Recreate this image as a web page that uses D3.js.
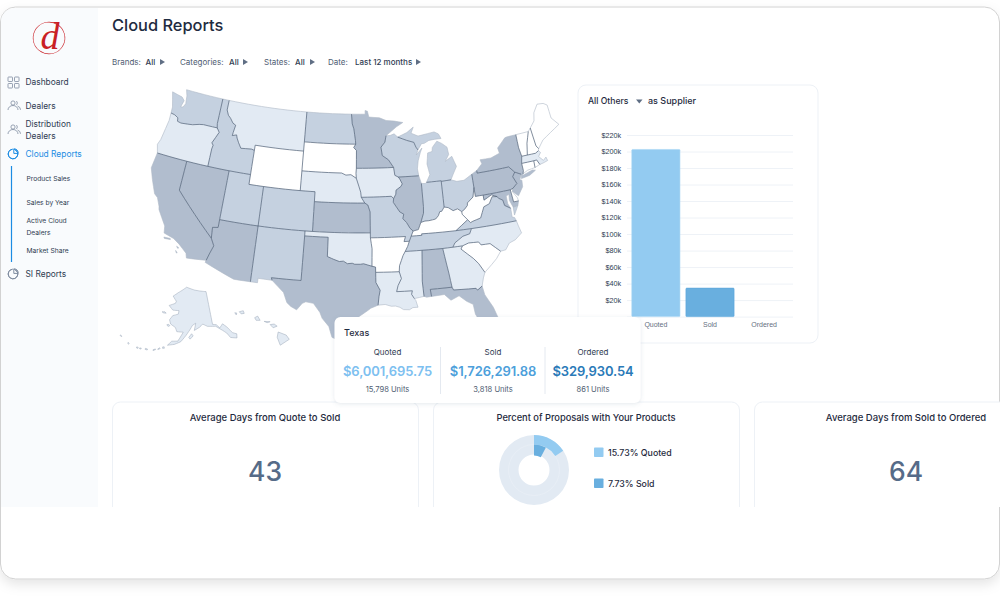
<!DOCTYPE html>
<html lang="en">
  <head>
    <meta charset="UTF-8" />
    <title>Cloud Reports</title>
    <script src="https://cdnjs.cloudflare.com/ajax/libs/d3/7.8.5/d3.min.js"></script>
    <style>
      html,
      body {
        margin: 0;
        padding: 0;
        background: #fff;
      }
      svg {
        display: block;
        font-family: Inter, 'Noto Sans', sans-serif;
      }
    </style>
  </head>
  <body>
    <svg width="1000" height="605"></svg>
    <script>
      // bar chart
      const barCategories = ['Quoted', 'Sold', 'Ordered'];
      const barValues = [202500, 34500, 0];
      const barTicks = [0, 20000, 40000, 60000, 80000, 100000, 120000, 140000, 160000, 180000, 200000, 220000];

      // tooltip
      const tipLabels = ['Quoted', 'Sold', 'Ordered'];
      const tipAmounts = ['$6,001,695.75', '$1,726,291.88', '$329,930.54'];
      const tipUnits = ['15,798 Units', '3,818 Units', '861 Units'];

      // donut
      const donutLabels = ['15.73% Quoted', '7.73% Sold'];
      const donutValues = [15.73, 7.73];

      // kpi cards
      const kpiTitles = ['Average Days from Quote to Sold', 'Percent of Proposals with Your Products', 'Average Days from Sold to Ordered'];
      const kpiValues = ['43', '', '64'];

      // navigation and filters
      const navItems = ['Dashboard', 'Dealers', 'Distribution', 'Dealers', 'Cloud Reports', 'SI Reports'];
      const navSubItems = ['Product Sales', 'Sales by Year', 'Active Cloud', 'Dealers', 'Market Share'];
      const filterNames = ['Brands:', 'Categories:', 'States:', 'Date:'];
      const filterValues = ['All', 'All', 'All', 'Last 12 months'];

      // map: 0 white .. 3 darkest
      const stateShade = {
        WA: 2, OR: 1, CA: 3, NV: 3, ID: 2, MT: 1, WY: 0, UT: 2, AZ: 3, CO: 2, NM: 2, ND: 2, SD: 0, NE: 1, KS: 3, OK: 1, TX: 3,
        MN: 3, IA: 1, MO: 2, AR: 0, LA: 1, WI: 2, IL: 3, MI: 2, IN: 2, OH: 2, KY: 0, TN: 2, MS: 1, AL: 3, GA: 1, FL: 3, SC: 0,
        NC: 1, VA: 2, WV: 0, MD: 3, DE: 0, PA: 3, NJ: 3, NY: 3, CT: 0, RI: 0, MA: 1, VT: 0, NH: 0, ME: 0, AK: 1, HI: 1,
      };

      // lon,lat outlines. XX_YY keys are borders between two states, lower case keys are coast or foreign borders
      const mapArcs = {
        WA_n: '-117.04,49 -122.76,49',
        WA_c: '-122.76,49 -122.45,48.4 -122.3,47.6 -122.55,47.2 -122.9,47.15 -122.65,47.85 -123.1,48.15 -124.7,48.38 -124.35,47.6 -124.05,46.9 -124,46.27',
        WA_OR: '-124,46.27 -123.4,46.2 -122.85,46 -122.75,45.65 -122.2,45.57 -121.2,45.65 -120.5,45.72 -119.6,45.92 -118.98,46 -116.92,46',
        WA_ID: '-116.92,46 -117.04,46.42 -117.04,49',
        OR_c: '-124,46.27 -123.95,45.5 -124.1,44.6 -124.3,43.4 -124.55,42.84 -124.2,42',
        OR_CA: '-124.2,42 -120,42',
        OR_NV: '-120,42 -117.03,42',
        OR_ID: '-116.92,46 -116.5,45.6 -116.85,45 -117.2,44.4 -116.95,44.2 -117.03,43.8 -117.03,42',
        ID_n: '-117.04,49 -116.05,49',
        ID_MT: '-116.05,49 -116.05,48 -115.7,47.5 -115.3,47.25 -114.8,46.8 -114.35,46.65 -114.5,45.9 -114.55,45.55 -113.95,45.7 -113.8,45.4 -113.45,44.95 -113,44.45 -112.3,44.5 -111.5,44.55 -111.05,44.47',
        ID_WY: '-111.05,44.47 -111.05,42',
        ID_UT: '-111.05,42 -114.04,42',
        ID_NV: '-114.04,42 -117.03,42',
        MT_n: '-116.05,49 -104.05,49',
        MT_ND: '-104.05,49 -104.05,45.94',
        MT_SD: '-104.05,45.94 -104.05,45',
        MT_WY: '-104.05,45 -111.05,45 -111.05,44.47',
        WY_UT: '-111.05,42 -111.05,41 -109.05,41',
        WY_CO: '-109.05,41 -104.05,41',
        WY_NE: '-104.05,41 -104.05,43',
        WY_SD: '-104.05,43 -104.05,45',
        ND_n: '-104.05,49 -97.23,49',
        ND_MN: '-97.23,49 -97.1,48 -96.85,47.5 -96.6,46.3 -96.56,45.94',
        ND_SD: '-96.56,45.94 -104.05,45.94',
        SD_NE: '-104.05,43 -98.5,43 -97.9,42.8 -97.2,42.85 -96.45,42.49',
        SD_IA: '-96.45,42.49 -96.5,43 -96.45,43.5',
        SD_MN: '-96.45,43.5 -96.45,45.3 -96.85,45.6 -96.56,45.94',
        MN_c: '-97.23,49 -95.15,49 -95.15,49.38 -94.8,49.3 -94.6,48.7 -93,48.6 -92,48.3 -90.8,48.2 -89.5,48 -90.5,47.6 -92.1,46.75',
        MN_WI: '-92.1,46.75 -92.3,46.1 -92.9,45.6 -92.75,44.75 -91.9,44.3 -91.22,43.5',
        IA_MN: '-91.22,43.5 -96.45,43.5',
        NE_CO: '-104.05,41 -102.04,41 -102.04,40',
        NE_KS: '-102.04,40 -95.31,40',
        NE_MO: '-95.31,40 -95.77,40.58',
        NE_IA: '-95.77,40.58 -95.85,41.1 -96.1,41.7 -96.45,42.49',
        IA_MO: '-95.77,40.58 -91.73,40.61 -91.42,40.38',
        IA_IL: '-91.42,40.38 -91.1,40.8 -91.05,41.2 -90.35,41.55 -90.15,41.8 -90.45,42.3 -90.64,42.51',
        IA_WI: '-90.64,42.51 -91.1,42.7 -91.22,43.5',
        WI_c1: '-92.1,46.75 -91.5,46.75 -90.9,46.9 -90.4,46.55',
        WI_MI: '-90.4,46.55 -89.1,46.15 -88.1,45.9 -87.85,45.4 -87.6,45.1',
        WI_c2: '-87.6,45.1 -87.9,44.6 -87,45.25 -87.3,44.8 -87.7,44 -87.9,43.2 -87.8,42.49',
        IL_WI: '-87.8,42.49 -90.64,42.51',
        MI_up: '-90.4,46.55 -89,46.95 -88,47.45 -88.4,46.85 -87.4,46.5 -86,46.65 -85,46.75 -84.4,46.5 -84.1,46 -85,46 -85.9,45.95 -86.6,45.7 -87,45.7 -87.6,45.1',
        MI_lp: '-83.45,41.73 -83.1,42.2 -82.45,43 -82.9,44.07 -83.9,43.65 -83.3,44.3 -83.4,45.05 -84.1,45.5 -84.75,45.78 -85,45.6 -85.5,45.2 -85.6,44.8 -86.25,44.7 -86.5,43.6 -86.25,42.5 -86.82,41.76',
        MI_IN: '-86.82,41.76 -84.8,41.76 -84.8,41.7',
        MI_OH: '-84.8,41.7 -83.45,41.73',
        IL_MO: '-91.42,40.38 -91.5,40 -91.1,39.5 -90.7,39 -90.2,38.75 -90.35,38.3 -89.9,37.9 -89.5,37.3 -89.13,37',
        IL_KY: '-89.13,37 -88.45,37.1 -88.05,37.8',
        IL_IN: '-88.05,37.8 -87.6,38.7 -87.53,39.35 -87.53,41.7',
        IL_c: '-87.53,41.7 -87.8,42.49',
        IN_c: '-87.53,41.7 -87,41.65 -86.82,41.76',
        IN_OH: '-84.8,41.7 -84.82,39.1',
        IN_KY: '-84.82,39.1 -85.2,38.7 -85.45,38.7 -85.7,38.3 -86.1,38 -86.5,37.95 -87,37.9 -87.5,37.9 -88.05,37.8',
        OH_c: '-83.45,41.73 -82.7,41.5 -81.7,41.5 -80.52,41.98',
        OH_PA: '-80.52,41.98 -80.52,40.64',
        OH_WV: '-80.52,40.64 -80.85,39.7 -81.7,39.2 -81.75,38.95 -82.2,38.6 -82.6,38.42',
        OH_KY: '-82.6,38.42 -83.1,38.75 -83.7,38.63 -84.3,39 -84.82,39.1',
        KY_MO: '-89.13,37 -89.42,36.5',
        KY_TN: '-89.42,36.5 -88.07,36.5 -88.07,36.65 -83.68,36.6',
        KY_VA: '-83.68,36.6 -82,37.53',
        KY_WV: '-82,37.53 -82.6,38.15 -82.6,38.42',
        TN_VA: '-83.68,36.6 -81.68,36.59',
        TN_NC: '-81.68,36.59 -82,36.1 -82.9,35.95 -84,35.4 -84.32,34.99',
        TN_GA: '-84.32,34.99 -85.6,34.98',
        TN_AL: '-85.6,34.98 -88.2,35',
        TN_MS: '-88.2,35 -90.3,35',
        TN_AR: '-90.3,35 -89.95,35.5 -89.7,36',
        TN_MO: '-89.7,36 -89.42,36.5',
        MO_AR: '-89.7,36 -90.37,36 -90.15,36.5 -94.62,36.5',
        MO_OK: '-94.62,36.5 -94.62,37',
        MO_KS: '-94.62,37 -94.61,39.1 -94.9,39.8 -95.31,40',
        KS_OK: '-94.62,37 -102.04,37',
        CO_KS: '-102.04,37 -102.04,40',
        CO_OK: '-102.04,37 -103,37',
        NM_OK: '-103,37 -103,36.5',
        OK_TX: '-103,36.5 -100,36.5 -100,34.56 -99.5,34.4 -99.2,34.3 -98.5,34.1 -98,34.15 -97.5,33.9 -96.9,33.95 -96.6,33.85 -95.9,33.85 -95.5,33.9 -94.48,33.64',
        OK_AR: '-94.48,33.64 -94.43,35.4 -94.62,36.5',
        AR_TX: '-94.48,33.64 -94.04,33.55 -94.04,33.02',
        AR_LA: '-94.04,33.02 -91.17,33',
        AR_MS: '-91.17,33 -91.1,33.6 -90.85,34.1 -90.6,34.6 -90.3,35',
        LA_MS: '-91.17,33 -90.95,32.3 -91.4,31.6 -91.6,31 -89.73,31 -89.85,30.65 -89.55,30.2',
        LA_c: '-89.55,30.2 -89.4,30 -89.2,29.3 -89.8,29.3 -90.2,29.1 -90.9,29.15 -91.3,29.4 -91.8,29.55 -92.3,29.55 -93,29.75 -93.84,29.7',
        LA_TX: '-93.84,29.7 -93.7,30.6 -93.55,31.2 -94.04,32 -94.04,33.02',
        MS_c: '-89.55,30.2 -88.4,30.35',
        MS_AL: '-88.4,30.35 -88.47,31.9 -88.2,35',
        AL_c: '-88.4,30.35 -88.1,30.25 -87.52,30.28',
        AL_FL: '-87.52,30.28 -87.6,31 -85,31',
        AL_GA: '-85,31 -85.18,32.4 -85.6,34.98',
        GA_FL: '-85,31 -84.86,30.7 -82.2,30.57 -82.05,30.37 -81.45,30.71',
        GA_c: '-81.45,30.71 -81.15,31.5 -80.87,32.03',
        GA_SC: '-80.87,32.03 -81.45,33 -82,33.6 -83.35,34.7 -83.11,35',
        GA_NC: '-83.11,35 -84.32,34.99',
        FL_c: '-87.52,30.28 -86,30.35 -85.3,29.7 -84.3,30.05 -83.5,29.4 -82.8,29 -82.7,28 -82.1,26.7 -81.7,25.9 -81.1,25.13 -80.4,25.2 -80.05,26.8 -80.55,28.4 -81.3,29.8 -81.45,30.71',
        SC_NC: '-83.11,35 -82.3,35.2 -81.05,35.15 -80.8,34.82 -79.67,34.8 -78.55,33.86',
        SC_c: '-78.55,33.86 -79.2,33.2 -79.9,32.7 -80.87,32.03',
        NC_VA: '-81.68,36.59 -75.87,36.55',
        NC_c: '-75.87,36.55 -75.75,36 -75.55,35.25 -76.5,34.7 -77.3,34.5 -77.9,33.9 -78.55,33.86',
        VA_WV: '-82,37.53 -81.68,37.2 -81.35,37.3 -80.3,37.5 -79.65,38.55 -78.87,38.76 -78.35,39.4 -77.72,39.32',
        VA_MD: '-77.72,39.32 -77.5,39.1 -77.04,38.85 -76.95,38.3 -76.25,37.9',
        VA_c: '-76.25,37.9 -76.3,37 -76,36.9 -75.87,36.55',
        VA_es: '-75.95,37.15 -75.25,38.03 -75.9,37.95 -75.95,37.15',
        WV_MD: '-77.72,39.32 -78.4,39.6 -79.48,39.2 -79.48,39.72',
        WV_PA: '-79.48,39.72 -80.52,39.72 -80.52,40.64',
        MD_PA: '-79.48,39.72 -75.79,39.72',
        MD_DE: '-75.79,39.72 -75.7,38.46 -75.05,38.45',
        MD_c: '-75.05,38.45 -75.25,38.03 -75.9,37.95 -76.2,38.7 -76.1,39.3 -76.5,39.2 -76.5,38.4 -76.25,37.9',
        DE_c: '-75.05,38.45 -75.1,38.8 -75.55,39.45 -75.42,39.8',
        DE_PA: '-75.42,39.8 -75.79,39.72',
        PA_NJ: '-75.42,39.8 -74.75,40.2 -75.1,40.95 -74.7,41.36',
        PA_NY: '-74.7,41.36 -75.35,42 -79.76,42 -79.76,42.27',
        PA_c: '-79.76,42.27 -80.52,41.98',
        NJ_NY: '-74.7,41.36 -73.9,41',
        NJ_c: '-73.9,41 -74.25,40.5 -74,40.4 -74.1,39.75 -74.9,38.95 -75.55,39.5 -75.42,39.8',
        NY_c: '-79.76,42.27 -78.9,42.85 -79.05,43.27 -77.5,43.25 -76.2,43.55 -76.3,44.1 -75,44.95 -74.7,45 -73.35,45.01',
        NY_VT: '-73.35,45.01 -73.4,43.65 -73.26,42.75',
        MA_NY: '-73.26,42.75 -73.5,42.05',
        CT_NY: '-73.5,42.05 -73.5,41.3 -73.65,41',
        NY_li: '-73.65,41 -73.75,40.85 -72.3,41.15 -71.9,41.05 -72.8,40.7 -74,40.57 -73.9,41',
        CT_c: '-73.65,41 -72.9,41.25 -71.86,41.32',
        CT_RI: '-71.86,41.32 -71.8,42.01',
        CT_MA: '-71.8,42.01 -73.5,42.05',
        RI_MA: '-71.8,42.01 -71.38,42.02 -71.12,41.5',
        RI_c: '-71.12,41.5 -71.86,41.32',
        MA_VT: '-73.26,42.75 -72.46,42.73',
        MA_NH: '-72.46,42.73 -71.3,42.7 -70.82,42.87',
        MA_c: '-70.82,42.87 -70.6,42.65 -71,42.3 -70.5,41.8 -70.05,42.05 -69.95,41.67 -70.65,41.55 -71.12,41.5',
        VT_n: '-73.35,45.01 -71.5,45.01',
        NH_VT: '-71.5,45.01 -72.1,43.9 -72.46,42.73',
        NH_c: '-70.82,42.87 -70.7,43.07',
        ME_NH: '-70.7,43.07 -70.97,43.4 -71.1,45.3',
        NH_n: '-71.1,45.3 -71.5,45.01',
        ME_c: '-71.1,45.3 -70.3,45.9 -70,46.7 -69.2,47.45 -68.3,47.35 -67.8,47.07 -67.8,45.7 -67,44.85 -68.5,44.3 -69.8,43.8 -70.7,43.07',
        CA_NV: '-120,42 -120,39 -114.63,35',
        CA_AZ: '-114.63,35 -114.15,34.3 -114.5,33.4 -114.72,32.72',
        CA_s: '-114.72,32.72 -117.12,32.53',
        CA_c: '-117.12,32.53 -117.3,33 -118.4,33.75 -119.2,34.15 -120.5,34.45 -120.65,35.15 -121.9,36.6 -122,36.9 -122.5,37.7 -123,38 -123.8,39.3 -124.4,40.4 -124.2,42',
        CA_i1: '-120.4,34.05 -119.6,34.07 -119.55,33.97 -120.3,33.93 -120.4,34.05',
        CA_i2: '-118.6,33.47 -118.3,33.35 -118.45,33.3 -118.6,33.47',
        CA_i3: '-118.6,33.03 -118.35,32.82 -118.45,32.8 -118.6,33.03',
        NV_UT: '-114.04,42 -114.05,37',
        NV_AZ: '-114.05,37 -114.05,36.2 -114.75,36.1 -114.63,35',
        AZ_UT: '-114.05,37 -109.05,37',
        CO_UT: '-109.05,37 -109.05,41',
        CO_NM: '-103,37 -109.05,37',
        AZ_NM: '-109.05,37 -109.05,31.33',
        AZ_s: '-109.05,31.33 -111.07,31.33 -114.8,32.5 -114.72,32.72',
        NM_s: '-109.05,31.33 -108.2,31.33 -108.2,31.78 -106.5,31.75',
        NM_TX: '-106.5,31.75 -106.62,32 -103.04,32 -103,36.5',
        TX_c: '-93.84,29.7 -94.7,29.4 -95,29.2 -96.5,28.3 -97.4,27.3 -97.15,25.95',
        TX_s: '-97.15,25.95 -98.2,26.05 -99.1,26.4 -99.5,27.5 -100.3,28.3 -100.6,28.9 -101.4,29.77 -102.3,29.88 -102.7,29.7 -103.3,29 -104,29.3 -104.5,29.65 -105,30.65 -106.5,31.75',
      };

      const alaskaRings = [
        '-141,69.65 -141,60.3 -139,60 -137.5,58.9 -135.5,59.8 -133.8,58.7 -131.8,56.6 -130,55.9 -130.6,54.8 -131.5,55 -133.5,55.5 -134.7,57 -136.5,58.1 -139.5,59.6 -144,60 -146.5,60.8 -148.5,60 -151.5,59.2 -150.5,61.2 -152.5,60.6 -153.8,59.5 -156,57.8 -158.5,56 -161.5,55.1 -164.8,54.6 -163,55.9 -160,56.1 -157.5,58.7 -161,58.7 -162,59.8 -165,60.6 -166,61.7 -164.5,63 -161.2,63.6 -161,64.6 -165,64.5 -168,65.6 -164,66.5 -163.6,67.1 -166.5,68.4 -163,69.6 -156.6,71.35 -150,70.5 -141,69.65',
        '-154.5,57.3 -153,58.3 -152.2,57.7 -153.8,56.8 -154.5,57.3',
        '-167,60.2 -166,60.4 -165.2,60.1 -166.2,59.8 -167,60.2',
        '-171.5,63.4 -169.8,63.6 -168.8,63.3 -170.3,63.2 -171.5,63.4',
        '-166.9,53.9 -166.2,54 -166,53.6 -166.8,53.5 -166.9,53.9',
        '-169,53 -168.2,53.5 -167.9,53.3 -168.8,52.9 -169,53',
        '-171,52.5 -170,52.9 -169.9,52.7 -170.9,52.3 -171,52.5',
        '-174.5,52.3 -173.5,52.3 -173.5,52 -174.5,52 -174.5,52.3',
        '-177,51.9 -176.3,52 -176.3,51.7 -177,51.7 -177,51.9',
        '-178.4,51.9 -177.7,51.9 -177.7,51.6 -178.4,51.6 -178.4,51.9',
        '177.2,52.1 177.8,52 177.8,51.7 177.2,51.8 177.2,52.1',
        '172.5,53 173.4,52.9 173.4,52.75 172.5,52.8 172.5,53',
      ];
      const hawaiiRings = [
        '-155.9,20.2 -155.1,19.9 -154.8,19.5 -155.7,18.95 -156,19.7 -155.9,20.2',
        '-156.7,20.9 -156.3,20.95 -156,20.75 -156.4,20.6 -156.7,20.9',
        '-157.3,21.2 -156.7,21.17 -157,21.08 -157.3,21.2',
        '-158.25,21.55 -157.95,21.7 -157.7,21.3 -158.1,21.3 -158.25,21.55',
        '-159.8,22.1 -159.4,22.2 -159.3,21.95 -159.6,21.9 -159.8,22.1',
        '-160.25,22 -160.05,21.98 -160.1,21.8 -160.25,22',
      ];

      const stateArcs = {
        WA: [['WA_n', 'WA_c', 'WA_OR', 'WA_ID']],
        OR: [['WA_OR', 'OR_c', 'OR_CA', 'OR_NV', 'OR_ID']],
        ID: [['ID_n', 'ID_MT', 'ID_WY', 'ID_UT', 'ID_NV', 'OR_ID', 'WA_ID']],
        MT: [['MT_n', 'MT_ND', 'MT_SD', 'MT_WY', 'ID_MT']],
        WY: [['MT_WY', 'ID_WY', 'WY_UT', 'WY_CO', 'WY_NE', 'WY_SD']],
        ND: [['ND_n', 'ND_MN', 'ND_SD', 'MT_ND']],
        SD: [['ND_SD', 'MT_SD', 'WY_SD', 'SD_NE', 'SD_IA', 'SD_MN']],
        MN: [['MN_c', 'MN_WI', 'IA_MN', 'SD_MN', 'ND_MN']],
        NE: [['SD_NE', 'NE_IA', 'NE_MO', 'NE_KS', 'NE_CO', 'WY_NE']],
        IA: [['IA_MN', 'SD_IA', 'NE_IA', 'IA_MO', 'IA_IL', 'IA_WI']],
        WI: [['WI_c1', 'WI_MI', 'WI_c2', 'IL_WI', 'IA_WI', 'MN_WI']],
        MI: [['WI_MI', 'MI_up'], ['MI_lp', 'MI_IN', 'MI_OH']],
        IL: [['IL_WI', 'IA_IL', 'IL_MO', 'IL_KY', 'IL_IN', 'IL_c']],
        IN: [['IN_c', 'MI_IN', 'IN_OH', 'IN_KY', 'IL_IN']],
        OH: [['MI_OH', 'OH_c', 'OH_PA', 'OH_WV', 'OH_KY', 'IN_OH']],
        KY: [['OH_KY', 'IN_KY', 'IL_KY', 'KY_MO', 'KY_TN', 'KY_VA', 'KY_WV']],
        TN: [['KY_TN', 'TN_VA', 'TN_NC', 'TN_GA', 'TN_AL', 'TN_MS', 'TN_AR', 'TN_MO']],
        MO: [['IA_MO', 'IL_MO', 'KY_MO', 'TN_MO', 'MO_AR', 'MO_OK', 'MO_KS', 'NE_MO']],
        KS: [['NE_KS', 'MO_KS', 'KS_OK', 'CO_KS']],
        OK: [['KS_OK', 'CO_OK', 'NM_OK', 'OK_TX', 'OK_AR', 'MO_OK']],
        AR: [['MO_AR', 'OK_AR', 'AR_TX', 'AR_LA', 'AR_MS', 'TN_AR']],
        LA: [['AR_LA', 'LA_MS', 'LA_c', 'LA_TX']],
        MS: [['TN_MS', 'AR_MS', 'LA_MS', 'MS_c', 'MS_AL']],
        AL: [['TN_AL', 'MS_AL', 'AL_c', 'AL_FL', 'AL_GA']],
        GA: [['TN_GA', 'AL_GA', 'GA_FL', 'GA_c', 'GA_SC', 'GA_NC']],
        FL: [['AL_FL', 'GA_FL', 'FL_c']],
        SC: [['GA_SC', 'SC_NC', 'SC_c']],
        NC: [['GA_NC', 'TN_NC', 'NC_VA', 'NC_c', 'SC_NC']],
        VA: [['NC_VA', 'TN_VA', 'KY_VA', 'VA_WV', 'VA_MD', 'VA_c'], ['VA_es']],
        WV: [['OH_WV', 'KY_WV', 'VA_WV', 'WV_MD', 'WV_PA']],
        MD: [['WV_MD', 'MD_PA', 'MD_DE', 'MD_c', 'VA_MD']],
        DE: [['MD_DE', 'DE_c', 'DE_PA']],
        PA: [['OH_PA', 'WV_PA', 'MD_PA', 'DE_PA', 'PA_NJ', 'PA_NY', 'PA_c']],
        NJ: [['PA_NJ', 'NJ_NY', 'NJ_c']],
        NY: [['PA_NY', 'NY_c', 'NY_VT', 'MA_NY', 'CT_NY', 'NY_li', 'NJ_NY']],
        CT: [['CT_NY', 'CT_c', 'CT_RI', 'CT_MA']],
        RI: [['CT_RI', 'RI_MA', 'RI_c']],
        MA: [['CT_MA', 'MA_NY', 'MA_VT', 'MA_NH', 'MA_c', 'RI_MA']],
        VT: [['VT_n', 'NH_VT', 'MA_VT', 'NY_VT']],
        NH: [['NH_VT', 'MA_NH', 'NH_c', 'ME_NH', 'NH_n']],
        ME: [['ME_NH', 'ME_c']],
        CA: [['OR_CA', 'CA_NV', 'CA_AZ', 'CA_s', 'CA_c'], ['CA_i1'], ['CA_i2'], ['CA_i3']],
        NV: [['OR_NV', 'ID_NV', 'NV_UT', 'NV_AZ', 'CA_NV']],
        UT: [['ID_UT', 'NV_UT', 'AZ_UT', 'CO_UT', 'WY_UT']],
        CO: [['WY_CO', 'NE_CO', 'CO_KS', 'CO_OK', 'CO_NM', 'CO_UT']],
        AZ: [['AZ_UT', 'AZ_NM', 'AZ_s', 'CA_AZ', 'NV_AZ']],
        NM: [['CO_NM', 'AZ_NM', 'NM_s', 'NM_TX', 'NM_OK']],
        TX: [['OK_TX', 'AR_TX', 'LA_TX', 'TX_c', 'TX_s', 'NM_TX']],
      };

      const ink = '#1f2b40';
      const grey = '#4f5d72';
      const blue = '#1c8ce3';
      const line = '#edf1f6';
      const shades = ['#ffffff', '#e2eaf3', '#c5d1e0', '#b1bdce'];

      const svg = d3.select('svg');

      function label(parent, x, y, text, size, color, weight, anchor) {
        return parent
          .append('text')
          .attr('x', x)
          .attr('y', y)
          .attr('font-size', size)
          .attr('fill', color)
          .attr('font-weight', weight || 400)
          .attr('text-anchor', anchor || 'start')
          .text(text);
      }

      // frame
      const defs = svg.append('defs');
      const shadow = defs.append('filter').attr('id', 'frameShadow').attr('x', '-5%').attr('y', '-5%').attr('width', '110%').attr('height', '112%');
      shadow.append('feDropShadow').attr('dx', 0).attr('dy', 5).attr('stdDeviation', 6).attr('flood-color', '#000').attr('flood-opacity', 0.1);
      const tipShadow = defs.append('filter').attr('id', 'tipShadow').attr('x', '-5%').attr('y', '-10%').attr('width', '110%').attr('height', '125%');
      tipShadow.append('feDropShadow').attr('dx', 0).attr('dy', 1).attr('stdDeviation', 2).attr('flood-color', '#5a6f8c').attr('flood-opacity', 0.16);
      defs.append('clipPath').attr('id', 'cardClip').append('rect').attr('x', 0).attr('y', 0).attr('width', 1000).attr('height', 507);

      svg.append('rect').attr('x', 0.5).attr('y', 7).attr('width', 999).attr('height', 572).attr('rx', 15).attr('fill', '#fff').attr('stroke', '#d2d2d2').attr('filter', 'url(#frameShadow)');
      svg.append('path').attr('d', 'M1,507V22a14,14 0 0 1 14,-14H98V507Z').attr('fill', '#f9fbfd');

      // logo
      const logo = svg.append('g');
      logo.append('path').attr('d', d3.arc()({ innerRadius: 15.6, outerRadius: 16.2, startAngle: 0.5, endAngle: 2 * Math.PI + 0.1 + 2.1 })).attr('transform', 'translate(49,38)').attr('fill', '#c91f25');
      logo.append('text').attr('x', 50).attr('y', 49).attr('text-anchor', 'middle').attr('font-family', "'Liberation Serif', serif").attr('font-style', 'italic').attr('font-size', 38).attr('fill', '#c91f25').text('d');

      // navigation
      const navY = [82, 106, 124, 136, 154, 274];
      navItems.forEach((d, i) => label(svg, 25.5, navY[i] + 3, d, 8.4, i === 4 ? blue : '#2f3c52', 400));
      const subY = [178, 202, 220, 232, 250];
      navSubItems.forEach((d, i) => label(svg, 26.5, subY[i] + 2.5, d, 6.7, '#2f3c52', 400));
      svg.append('line').attr('x1', 11.5).attr('x2', 11.5).attr('y1', 166).attr('y2', 262).attr('stroke', blue).attr('stroke-width', 1.2);

      const icons = svg.append('g').attr('fill', 'none').attr('stroke', '#7f8ca0').attr('stroke-width', 0.8);
      [[8, 77], [14.5, 77], [8, 83.5], [14.5, 83.5]].forEach((p) => icons.append('rect').attr('x', p[0]).attr('y', p[1]).attr('width', 4.5).attr('height', 4.5).attr('rx', 0.6));
      [[13, 105], [13, 129]].forEach((p) => {
        icons.append('circle').attr('cx', p[0]).attr('cy', p[1] - 2).attr('r', 2.1);
        icons.append('path').attr('d', `M${p[0] - 5},${p[1] + 5}a5,4.5 0 0 1 10,0`);
        icons.append('path').attr('d', `M${p[0] + 3.2},${p[1] - 4}a2.4,2.4 0 0 1 0,4M${p[0] + 4.5},${p[1] + 1}a5,4 0 0 1 3,3.8`);
      });
      [[13, 154, blue], [13, 274, '#7f8ca0']].forEach((p) => {
        const g = svg.append('g').attr('transform', `translate(${p[0]},${p[1]})`).attr('fill', 'none').attr('stroke', p[2]).attr('stroke-width', 1);
        g.append('path').attr('d', d3.arc()({ innerRadius: 4.8, outerRadius: 4.8, startAngle: 0.3, endAngle: 2 * Math.PI - 0.1 }));
        g.append('path').attr('d', 'M0.8,-5.2A4.6,4.6 0 0 1 5.2,-0.6H0.8Z');
      });

      // header
      label(svg, 112, 30.5, 'Cloud Reports', 16.4, ink, 500);
      const filterX = [112, 180, 264, 328];
      const filterValX = [145.5, 229, 295, 355];
      const filterArrowX = [160, 243, 310, 416];
      filterNames.forEach((d, i) => {
        label(svg, filterX[i], 65, d, 8, grey, 400);
        label(svg, filterValX[i], 65, filterValues[i], 8, '#2f3c52', 500);
        svg.append('path').attr('d', `M${filterArrowX[i]},59v6l5,-3Z`).attr('fill', '#5f6e84');
      });

      // map
      const lower48 = d3.geoAlbers().scale(565).translate([355, 216]);
      const alaska = d3.geoConicEqualArea().rotate([154, 0]).center([-2, 58.5]).parallels([55, 65]).scale(205).translate([186, 333]);
      const hawaii = d3.geoConicEqualArea().rotate([157, 0]).center([-3, 19.9]).parallels([8, 18]).scale(610).translate([237, 335]);

      const parseRing = (s) => s.split(' ').map((p) => p.split(',').map(Number));
      // parallels are straight in lon/lat, so long runs get extra vertices before they go through the projection
      function densify(points) {
        const out = [points[0]];
        d3.pairs(points).forEach(([a, b]) => {
          const n = Math.ceil(Math.max(Math.abs(b[0] - a[0]), Math.abs(b[1] - a[1])));
          for (let k = 1; k <= n; k++) out.push([a[0] + ((b[0] - a[0]) * k) / n, a[1] + ((b[1] - a[1]) * k) / n]);
        });
        return out;
      }
      const same = (a, b) => a[0] === b[0] && a[1] === b[1];
      function stitch(keys) {
        const parts = keys.map((k) => {
          if (!mapArcs[k]) throw new Error('no arc ' + k);
          return parseRing(mapArcs[k]);
        });
        let ring = parts[0].slice();
        if (parts.length > 1 && !parts[1].some((p, i) => (i === 0 || i === parts[1].length - 1) && same(p, ring[ring.length - 1]))) ring.reverse();
        parts.slice(1).forEach((part, i) => {
          const end = ring[ring.length - 1];
          if (same(part[0], end)) ring = ring.concat(part.slice(1));
          else if (same(part[part.length - 1], end)) ring = ring.concat(part.slice().reverse().slice(1));
          else throw new Error('gap at ' + keys[i + 1] + ' ' + keys.join());
        });
        if (!same(ring[0], ring[ring.length - 1])) throw new Error('open ring ' + keys.join());
        return ring;
      }
      function toPolygon(ring) {
        let coords = densify(ring);
        if (d3.geoArea({ type: 'Polygon', coordinates: [coords] }) > 2 * Math.PI) coords = coords.slice().reverse();
        return [coords];
      }

      const mapG = svg.append('g');
      const path48 = d3.geoPath(lower48);
      Object.keys(stateArcs).forEach((st) => {
        const polygons = stateArcs[st].map((keys) => toPolygon(stitch(keys)));
        mapG.append('path').datum({ type: 'MultiPolygon', coordinates: polygons }).attr('d', path48).attr('fill', shades[stateShade[st]]);
      });
      const isBorder = (k) => /^[A-Z]{2}_[A-Z]{2}$/.test(k);
      const arcKeys = Object.keys(mapArcs);
      mapG
        .selectAll('path.coast')
        .data(arcKeys.filter((k) => !isBorder(k)))
        .enter()
        .append('path')
        .attr('class', 'coast')
        .attr('d', (k) => path48({ type: 'LineString', coordinates: densify(parseRing(mapArcs[k])) }))
        .attr('fill', 'none')
        .attr('stroke', '#aeb8c6')
        .attr('stroke-width', 0.6);
      mapG
        .selectAll('path.border')
        .data(arcKeys.filter(isBorder))
        .enter()
        .append('path')
        .attr('class', 'border')
        .attr('d', (k) => path48({ type: 'LineString', coordinates: densify(parseRing(mapArcs[k])) }))
        .attr('fill', 'none')
        .attr('stroke', '#4b5b72')
        .attr('stroke-width', 0.7);
      [[alaskaRings, alaska], [hawaiiRings, hawaii]].forEach(([rings, proj]) => {
        mapG
          .append('path')
          .datum({ type: 'MultiPolygon', coordinates: rings.map((r) => toPolygon(parseRing(r))) })
          .attr('d', d3.geoPath(proj))
          .attr('fill', shades[1])
          .attr('stroke', '#9aa6b6')
          .attr('stroke-width', 0.5);
      });

      // supplier bar chart
      svg.append('rect').attr('x', 578).attr('y', 85).attr('width', 240).attr('height', 258).attr('rx', 8).attr('fill', '#fff').attr('stroke', line);
      label(svg, 588, 103.5, 'All Others', 8.6, ink, 500);
      svg.append('path').attr('d', 'M636,99.5h6.5l-3.2,4Z').attr('fill', '#5f6e84');
      label(svg, 648, 103.5, 'as Supplier', 9, ink, 500);

      const x = d3.scaleBand().domain(barCategories).range([628, 792]).paddingInner(0.11).paddingOuter(0.07);
      const y = d3.scaleLinear().domain([0, 220000]).range([316.6, 135]);
      const yAxis = d3
        .axisLeft(y)
        .tickValues(barTicks)
        .tickSize(-166)
        .tickPadding(6)
        .tickFormat((d) => (d ? `$${d / 1000}k` : ''));
      const yG = svg.append('g').attr('transform', 'translate(627,0)').call(yAxis);
      yG.select('.domain').remove();
      yG.selectAll('line').attr('stroke', '#eef2f7');
      yG.selectAll('text').attr('font-family', 'inherit').attr('font-size', 7.2).attr('font-weight', 500).attr('fill', '#2f3c52');
      const xAxis = d3.axisBottom(x).tickSize(0).tickPadding(5);
      const xG = svg.append('g').attr('transform', 'translate(0,316.6)').call(xAxis);
      xG.select('.domain').remove();
      xG.selectAll('text').attr('font-family', 'inherit').attr('font-size', 7).attr('fill', '#66707f');
      const barFill = ['#93cbf1', '#69afdf', '#3f8fcb'];
      const barEdge = ['#a9d7f5', '#5ba6dc', '#3f8fcb'];
      svg
        .append('g')
        .selectAll('rect')
        .data(barValues.filter((d) => d > 0))
        .enter()
        .append('rect')
        .attr('x', (d, i) => x(barCategories[i]))
        .attr('y', (d) => y(d))
        .attr('width', x.bandwidth())
        .attr('height', (d) => y(0) - y(d))
        .attr('rx', 0.8)
        .attr('fill', (d, i) => barFill[i])
        .attr('stroke', (d, i) => barEdge[i])
        .attr('stroke-width', 0.6);

      // kpi cards, cut off by the frame
      const cards = svg.append('g').attr('clip-path', 'url(#cardClip)');
      const cardX = [112.5, 433.5, 754.5];
      const cardW = [306, 306, 300];
      const cardMid = [265, 586, 906];
      const cardTitleSize = [9.5, 9.3, 9.5];
      cardX.forEach((cx, i) => {
        cards.append('rect').attr('x', cx).attr('y', 402).attr('width', cardW[i]).attr('height', 140).attr('rx', 8).attr('fill', '#fff').attr('stroke', line);
        label(cards, cardMid[i], 420.5, kpiTitles[i], cardTitleSize[i], ink, 500, 'middle');
        if (kpiValues[i]) label(cards, cardMid[i], 480.5, kpiValues[i], 26.5, '#566b88', 500, 'middle');
      });

      // donut
      const donut = cards.append('g').attr('transform', 'translate(534,470)');
      const ringArc = d3.arc();
      const tau = 2 * Math.PI;
      donut.append('path').attr('d', ringArc({ innerRadius: 15.5, outerRadius: 35, startAngle: 0, endAngle: tau })).attr('fill', '#e2eaf3');
      donut.append('circle').attr('r', 25.5).attr('fill', 'none').attr('stroke', '#ebf0f6').attr('stroke-width', 0.6);
      donut.append('path').attr('d', ringArc({ innerRadius: 25.5, outerRadius: 35, startAngle: 0, endAngle: tau * (donutValues[0] / 100) })).attr('fill', '#93cbf1');
      donut.append('path').attr('d', ringArc({ innerRadius: 14.5, outerRadius: 25.5, startAngle: 0, endAngle: tau * (donutValues[1] / 100) })).attr('fill', '#69afdf');
      const legendY = [447.5, 478.5];
      donutLabels.forEach((d, i) => {
        cards.append('rect').attr('x', 594).attr('y', legendY[i]).attr('width', 9.5).attr('height', 9.5).attr('rx', 0.8).attr('fill', barFill[i]);
        label(cards, 608, legendY[i] + 8.2, d, 8.8, ink, 500);
      });

      // tooltip on top of everything
      const tip = svg.append('g');
      tip.append('rect').attr('x', 334.5).attr('y', 317).attr('width', 306).attr('height', 86).attr('rx', 6).attr('fill', '#fff').attr('filter', 'url(#tipShadow)');
      label(tip, 344, 335.5, 'Texas', 9, ink, 500);
      const tipMid = [387.5, 493, 593];
      const tipColors = ['#7dc0f0', '#4d9fdb', '#2a7ab8'];
      tipLabels.forEach((d, i) => {
        label(tip, tipMid[i], 355, d, 8, '#2f3c52', 400, 'middle');
        label(tip, tipMid[i], 376, tipAmounts[i], 13, tipColors[i], 600, 'middle').attr('letter-spacing', -0.12);
        label(tip, tipMid[i], 392, tipUnits[i], 7.6, grey, 400, 'middle');
      });
      [440.5, 545].forEach((dx) => tip.append('line').attr('x1', dx).attr('x2', dx).attr('y1', 347).attr('y2', 394).attr('stroke', '#e4e9f0'));
    </script>
  </body>
</html>
